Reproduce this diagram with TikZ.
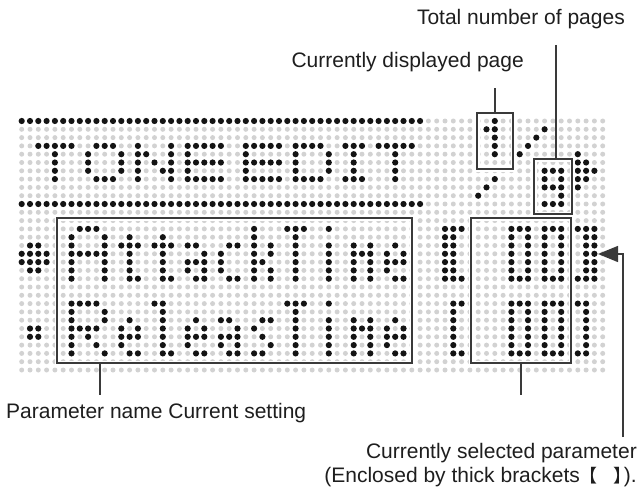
\documentclass[tikz,border=0pt]{standalone}
\usepackage{fontspec}
\setmainfont{Liberation Sans}
\newfontfamily\cjkfont{Noto Sans CJK JP}
\usepackage{tikz}
\usetikzlibrary{arrows.meta,fit}
\definecolor{Ink}{HTML}{1E1E1E}
\definecolor{FrameGrey}{HTML}{3A3A3A}
\definecolor{PixelOff}{HTML}{D2D2D2}
\definecolor{PixelOn}{HTML}{141414}

% dot glyphs: row offset / {column offsets}
\newcommand\hdT{0/{0,1,2,3,4},1/2,2/2,3/2,4/2}
\newcommand\hdO{0/{1,2,3},1/{0,4},2/{0,4},3/{0,4},4/{1,2,3}}
\newcommand\hdN{0/{0,4},1/{0,1,4},2/{0,2,4},3/{0,3,4},4/{0,4}}
\newcommand\hdE{0/{0,1,2,3,4},1/0,2/{0,1,2,3,4},3/0,4/{0,1,2,3,4}}
\newcommand\hdD{0/{0,1,2,3},1/{0,4},2/{0,4},3/{0,4},4/{0,1,2,3}}
\newcommand\hdI{0/{0,1,2},1/1,2/1,3/1,4/{0,1,2}}
\newcommand\bgA{0/{1,2,3},1/{0,4},2/{0,4},3/{0,1,2,3,4},4/{0,4},5/{0,4},6/{0,4}}
\newcommand\bgR{0/{0,1,2,3},1/{0,4},2/{0,4},3/{0,1,2,3},4/{0,2},5/{0,3},6/{0,4}}
\newcommand\bgT{0/{0,1,2},1/1,2/1,3/1,4/1,5/1,6/1}
\newcommand\bgt{1/1,2/{0,1,2},3/1,4/1,5/1,6/{1,2}}
\newcommand\bgl{0/{0,1},1/1,2/1,3/1,4/1,5/1,6/{1,2}}
\newcommand\bga{2/{0,1},3/2,4/{0,1,2},5/{0,2},6/{1,2}}
\newcommand\bgc{2/{1,2},3/0,4/0,5/0,6/{1,2}}
\newcommand\bgk{0/0,1/0,2/{0,2},3/{0,2},4/{0,1},5/{0,2},6/{0,2}}
\newcommand\bgs{2/{1,2},3/0,4/1,5/2,6/{0,1}}
\newcommand\bge{2/1,3/{0,2},4/{0,1,2},5/0,6/{1,2}}
\newcommand\bgi{0/0,2/0,3/0,4/0,5/0,6/0}
\newcommand\bgm{2/{0,2},3/{0,1,2},4/{0,2},5/{0,2},6/{0,2}}
\newcommand\bgZero{0/{0,1,2},1/{0,2},2/{0,2},3/{0,2},4/{0,2},5/{0,2},6/{0,1,2}}
\newcommand\bgOpenThick{0/{0,1,2},1/{0,1},2/{0,1},3/{0,1},4/{0,1},5/{0,1},6/{0,1,2}}
\newcommand\bgCloseThick{0/{0,1,2},1/{1,2},2/{1,2},3/{1,2},4/{1,2},5/{1,2},6/{0,1,2}}
\newcommand\bgOpen{0/{0,1},1/0,2/0,3/0,4/0,5/0,6/{0,1}}
\newcommand\bgClose{0/{0,1},1/1,2/1,3/1,4/1,5/1,6/{0,1}}
\newcommand\pgOne{0/1,1/{0,1},2/1,3/1,4/1}
\newcommand\pgSlash{0/8,1/7,2/6,3/5,6/2,7/1,8/0}
\newcommand\pgNine{0/{0,1,2},1/{0,2},2/{0,1,2},3/2,4/{0,1,2}}
\newcommand\pgNext{0/0,1/{0,1},2/{0,1,2},3/{0,1},4/0}
\newcommand\curBig{0/{1,2},1/{0,1,2,3},2/{0,1,2,3},3/{1,2}}
\newcommand\curSmall{0/{0,1},1/{0,1}}

% one glyph at left column #1, top row #2
\newcommand\lcdGlyph[3]{%
  \foreach \gr/\gcs in #3
    \foreach \gc in \gcs
      \fill[lcdOn] ({#1+\gc},{#2+\gr}) circle[radius=3.1pt];}

\begin{document}
\begin{tikzpicture}[x=1pt,y=-1pt]
  \path[use as bounding box] (0,0) rectangle (642,487);
  \tikzset{
    lcdOff/.style={fill=PixelOff},
    lcdOn/.style={fill=PixelOn},
    lcdFrame/.style={draw=FrameGrey, line width=1.4pt, inner sep=0pt,
      preaction={draw=white, line width=5pt}},
    lcdCallout/.style={draw=FrameGrey, line width=1.3pt},
    lcdPointer/.style={lcdCallout, -{Triangle[length=20pt,width=16pt]}},
    lcdLabel/.style={font=\fontsize{21}{24}\selectfont, text=Ink, inner sep=0pt}
  }

  \begin{scope}[shift={(21.7,121)}, x=8.3pt, y=-8.3pt]
    % unlit pixels
    \foreach \c in {0,...,70}
      \foreach \r in {0,...,30}
        \fill[lcdOff] (\c,\r) circle[radius=2.5pt];
    % title rules
    \foreach \c in {0,...,48} {
      \fill[lcdOn] (\c,0) circle[radius=3.1pt];
      \fill[lcdOn] (\c,10) circle[radius=3.1pt];
    }
    % TONE EDIT
    \lcdGlyph{2}{3}{\hdT}
    \lcdGlyph{8}{3}{\hdO}
    \lcdGlyph{14}{3}{\hdN}
    \lcdGlyph{20}{3}{\hdE}
    \lcdGlyph{27}{3}{\hdE}
    \lcdGlyph{33}{3}{\hdD}
    \lcdGlyph{39}{3}{\hdI}
    \lcdGlyph{43}{3}{\hdT}
    % page 1/9 and scroll mark
    \lcdGlyph{56}{0}{\pgOne}
    \lcdGlyph{55}{1}{\pgSlash}
    \lcdGlyph{63}{6}{\pgNine}
    \lcdGlyph{67}{4}{\pgNext}
    % cursors
    \lcdGlyph{0}{15}{\curBig}
    \lcdGlyph{1}{25}{\curSmall}
    % AttackTime
    \lcdGlyph{6}{13}{\bgA}
    \lcdGlyph{12}{13}{\bgt}
    \lcdGlyph{16}{13}{\bgt}
    \lcdGlyph{20}{13}{\bga}
    \lcdGlyph{24}{13}{\bgc}
    \lcdGlyph{28}{13}{\bgk}
    \lcdGlyph{32}{13}{\bgT}
    \lcdGlyph{37}{13}{\bgi}
    \lcdGlyph{40}{13}{\bgm}
    \lcdGlyph{44}{13}{\bge}
    % ReleasTime
    \lcdGlyph{6}{22}{\bgR}
    \lcdGlyph{12}{22}{\bge}
    \lcdGlyph{16}{22}{\bgl}
    \lcdGlyph{20}{22}{\bge}
    \lcdGlyph{24}{22}{\bga}
    \lcdGlyph{28}{22}{\bgs}
    \lcdGlyph{32}{22}{\bgT}
    \lcdGlyph{37}{22}{\bgi}
    \lcdGlyph{40}{22}{\bgm}
    \lcdGlyph{44}{22}{\bge}
    % values
    \lcdGlyph{51}{13}{\bgOpenThick}
    \lcdGlyph{59}{13}{\bgZero}
    \lcdGlyph{63}{13}{\bgZero}
    \lcdGlyph{67}{13}{\bgCloseThick}
    \lcdGlyph{52}{22}{\bgOpen}
    \lcdGlyph{59}{22}{\bgZero}
    \lcdGlyph{63}{22}{\bgZero}
    \lcdGlyph{67}{22}{\bgClose}
  \end{scope}

  \node[lcdFrame, fit={(477,113) (513,169)}] (shownBox) {};
  \node[lcdFrame, fit={(534,159) (572,214)}] (totalBox) {};
  \node[lcdFrame, fit={(57,218) (412,363)}] (nameBox) {};
  \node[lcdFrame, fit={(471,218) (571,363)}] (settingBox) {};

  \node[lcdLabel, anchor=base east] (pagesLabel) at (625,25) {Total number of pages};
  \node[lcdLabel, anchor=base east] (shownLabel) at (524,67) {Currently displayed page};
  \node[lcdLabel, anchor=base west] (nameLabel) at (6,418) {Parameter name Current setting};
  \node[lcdLabel, anchor=base east] (selLabel) at (637,458) {Currently selected parameter};
  \node[lcdLabel, anchor=base east] (selNote) at (637,482)
    {(Enclosed by thick brackets{\cjkfont\fontsize{18}{20}\selectfont 【\hspace{16pt}】\hspace{-8pt}}).};

  \coordinate (totalTip) at (556,45);
  \coordinate (shownTip) at (495,88);
  \coordinate (nameFoot) at (100,395);
  \coordinate (settingFoot) at (521,395);
  \coordinate (selFoot) at (623,437);
  \coordinate (selTip) at (598,254);

  \draw[lcdCallout] (totalTip) -- (totalTip |- totalBox.north);
  \draw[lcdCallout] (shownTip) -- (shownBox.north);
  \draw[lcdCallout] (nameFoot |- nameBox.south) -- (nameFoot);
  \draw[lcdCallout] (settingBox.south) -- (settingFoot);
  \draw[lcdPointer] (selFoot) |- (selTip);
\end{tikzpicture}
\end{document}
